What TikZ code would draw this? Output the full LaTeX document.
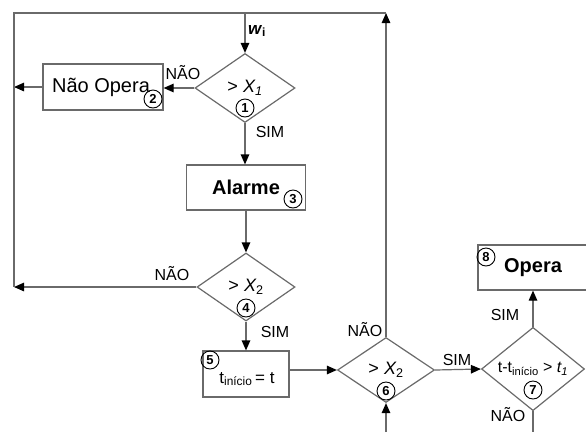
\documentclass[tikz,border=0pt]{standalone}
\usepackage{fontspec}
\setmainfont{Liberation Sans}
\usetikzlibrary{shapes.geometric,arrows.meta}
\definecolor{ln}{HTML}{6A6A6A}
\tikzset{
 line/.style={draw=ln, line width=1.2pt},
 arr/.style={line, -{Triangle[length=10pt,width=8.5pt,black]}},
 box/.style={draw=ln, line width=1.2pt, rectangle, inner sep=0pt},
 dia/.style={draw=ln, line width=1.2pt, diamond, inner sep=0pt, font=\fontsize{18}{20}\selectfont},
 lbl/.style={font=\fontsize{16}{18}\selectfont, inner sep=0pt},
 txt/.style={inner sep=0pt},
 num/.style={circle, draw=black, line width=0.9pt, minimum size=18pt, inner sep=0pt, font=\fontsize{13}{14}\selectfont\bfseries},
}
\begin{document}
\begin{tikzpicture}[x=1pt,y=-1pt]
\useasboundingbox (0,0) rectangle (586,432);
\clip (0,0) rectangle (586,432);
% frame coordinates
\coordinate (tr) at (386,13);
\coordinate (tl) at (14,13);
\coordinate (lb) at (14,287);
\coordinate (win) at (245,13);
\coordinate (b6) at (386,432);
\coordinate (b7) at (533,432);
% nodes
\node[dia, minimum width=100pt, minimum height=69pt] (d1) at (245,88) {> {\itshape X}\textsubscript{\itshape 1}};
\node[box, minimum width=120pt, minimum height=46pt] (np) at (103,87) {};
\node[txt, font=\fontsize{20}{24}\selectfont] (npt) at (101,87) {Não Opera};
\node[box, minimum width=119pt, minimum height=45pt, font=\fontsize{20}{24}\selectfont\bfseries] (al) at (246,187.5) {Alarme};
\node[dia, minimum width=98pt, minimum height=68pt] (d4) at (246,287) {> {\itshape X}\textsubscript{2}};
\node[box, minimum width=86pt, minimum height=46pt] (b5) at (246,374) {};
\node[txt, font=\fontsize{17}{20}\selectfont] (t5) at (247,379) {t\textsubscript{início}\,= t};
\node[dia, minimum width=97pt, minimum height=65pt] (d6) at (386,370) {> {\itshape X}\textsubscript{2}};
\node[dia, minimum width=103pt, minimum height=68pt, font=\fontsize{16}{18}\selectfont] (d7) at (533,369) {t-t\textsubscript{início} > {\itshape t}\textsubscript{\itshape 1}};
\node[box, minimum width=122pt, minimum height=45pt] (op) at (539,267.5) {};
\node[txt, font=\fontsize{20}{24}\selectfont\bfseries] (opt) at (533,268) {Opera};
% numbered circles
\node[num] (n1) at (245,108) {1};
\node[num] (n2) at (153,99) {2};
\node[num] (n3) at (293,199) {3};
\node[num] (n4) at (246,308) {4};
\node[num] (n5) at (210,360) {5};
\node[num] (n6) at (386,391) {6};
\node[num] (n7) at (533,390) {7};
\node[num] (n8) at (486,257) {8};
% connectors
\draw[arr] (win) -- (d1.north);
\draw[arr] (d1.west) -- (d1.west -| np.east);
\draw[arr] (np.west) -- (np.west -| tl);
\draw[arr] (d1.south) -- (d1.south |- al.north);
\draw[arr] (al.south) -- (d4.north);
\draw[arr] (d4.west) -- (lb);
\draw[arr] (d4.south) -- (b5.north);
\draw[arr] (b5.east |- d6.west) -- (d6.west);
\draw[arr] (d6.north) -- (tr);
\draw[line] (tr) -- (tl) -- (lb);
\draw[arr] (d6.east) -- (d7.west);
\draw[arr] (d7.north) -- (d7.north |- op.south);
\draw[arr] (b6) -- (d6.south);
\draw[line] (d7.south) -- (b7);
% labels
\node[txt, font=\fontsize{17}{20}\selectfont] (wi) at (257,31) {\textbf{\itshape w}\textsubscript{\bfseries i}};
\node[lbl] (l1) at (183,73) {NÃO};
\node[lbl] (l2) at (270,132) {SIM};
\node[lbl] (l3) at (172,274) {NÃO};
\node[lbl] (l4) at (275,332) {SIM};
\node[lbl] (l5) at (365,330) {NÃO};
\node[lbl] (l6) at (457,360) {SIM};
\node[lbl] (l7) at (505,315) {SIM};
\node[lbl] (l8) at (508,415) {NÃO};
\end{tikzpicture}
\end{document}
